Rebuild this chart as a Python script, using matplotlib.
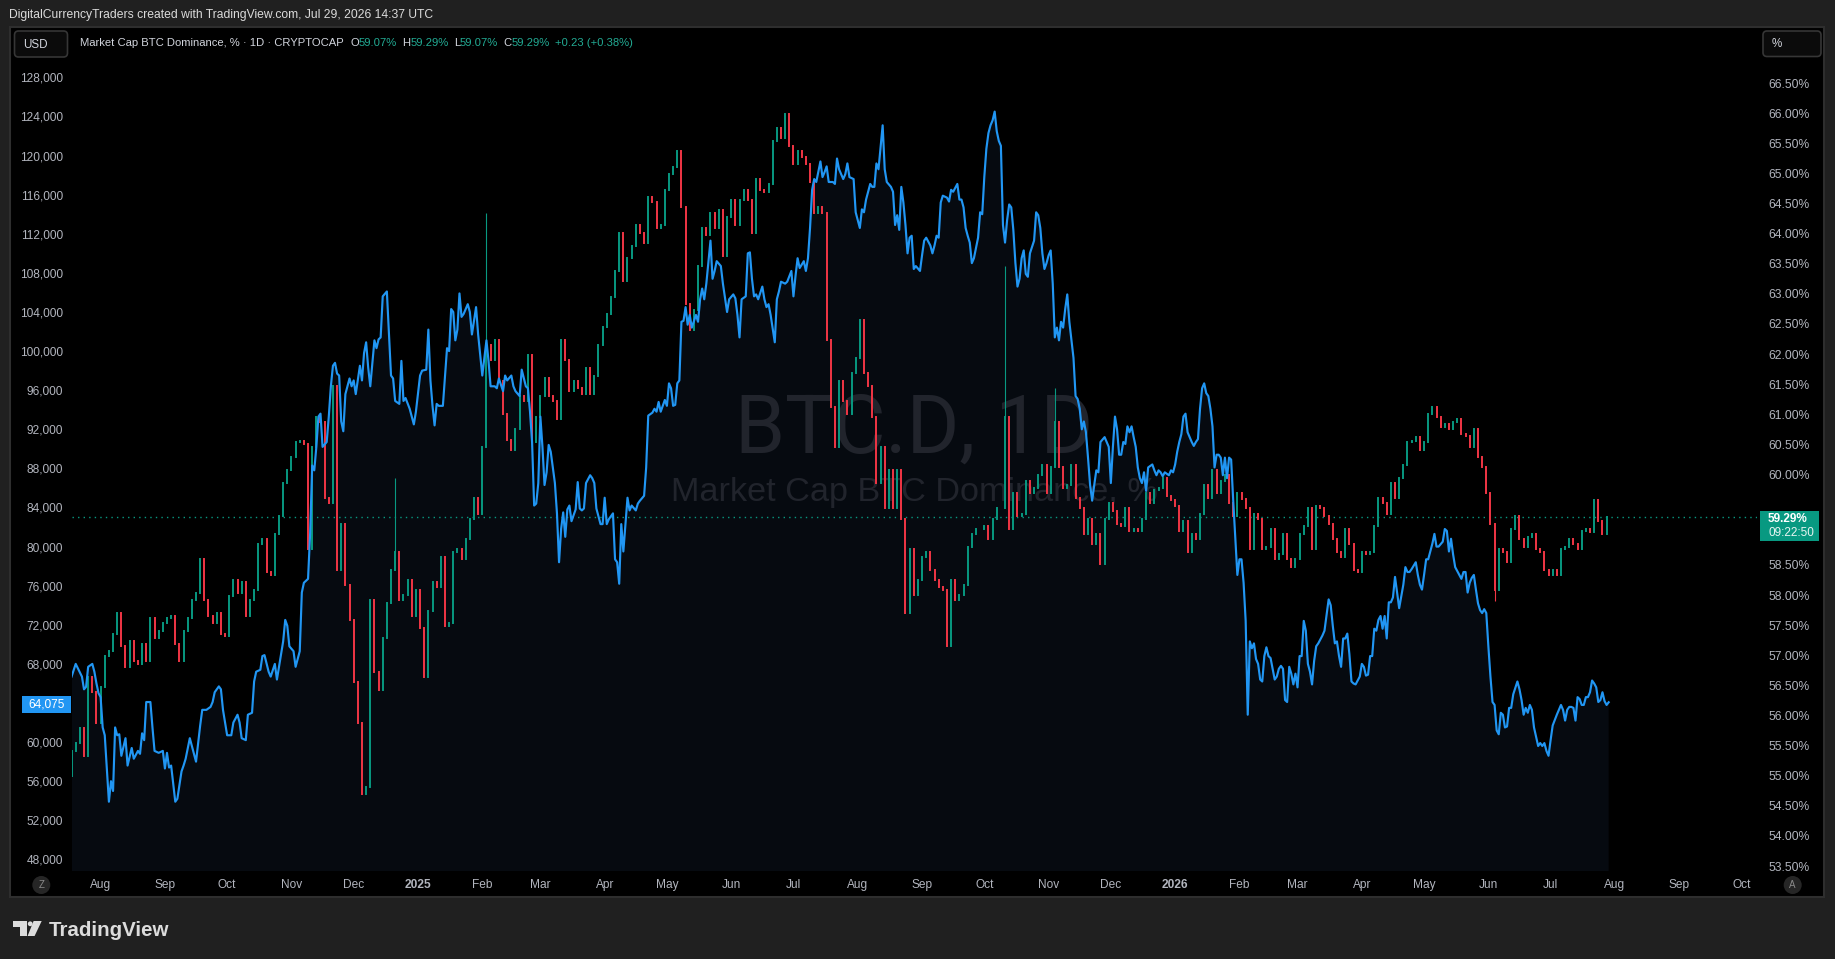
import numpy as np
import pandas as pd
import matplotlib
matplotlib.use("Agg")
import matplotlib.pyplot as plt
import matplotlib.dates as mdates
from matplotlib.patches import Rectangle, FancyBboxPatch, Circle, Polygon
from matplotlib.transforms import Affine2D, blended_transform_factory

# ------------------------------------------------------------------ data
origin = "2024-08-01"            # day 0 of the day offsets used below

# BTC dominance (%) closes, one candle every 2 days starting 2024-07-18
dom_start = "2024-07-18"
dom_step_days = 2
dom_first_open = 55.0
dom_close = [
    55.41, 55.54, 55.79, 55.33, 56.64, 56.39, 55.88, 56.47, 56.98, 57.07,
    57.36, 57.70, 57.15, 56.81, 57.24, 56.90, 56.86, 57.19, 56.90, 57.62,
    57.28, 57.40, 57.53, 57.62, 57.66, 57.19, 56.90, 57.40, 57.62, 57.91,
    58.04, 58.59, 57.91, 57.66, 57.53, 57.70, 57.36, 57.32, 57.99, 58.25,
    58.04, 58.21, 57.66, 57.91, 58.08, 58.85, 58.93, 58.38, 58.34, 59.01,
    59.31, 59.86, 60.07, 60.29, 60.54, 60.56, 60.50, 58.76, 60.46, 60.96,
    60.88, 59.61, 59.52, 61.47, 58.42, 59.18, 58.17, 57.58, 56.56, 55.88,
    54.69, 54.82, 57.91, 56.73, 56.43, 57.28, 57.87, 58.42, 58.72, 57.91,
    58.00, 58.25, 57.66, 58.08, 57.45, 56.64, 57.74, 58.21, 58.13, 58.63,
    57.49, 57.53, 58.72, 58.76, 58.59, 58.93, 59.27, 59.61, 59.35, 60.46,
    62.15, 61.90, 62.23, 61.56, 61.01, 60.58, 60.41, 60.75, 61.30, 61.22,
    61.98, 60.54, 60.96, 61.30, 61.60, 61.30, 61.22, 60.92, 62.23, 61.90,
    61.39, 61.56, 61.43, 61.34, 61.77, 61.34, 61.64, 62.15, 62.45, 62.66,
    62.95, 63.38, 64.01, 63.21, 63.59, 63.80, 64.14, 64.01, 63.84, 64.61,
    64.52, 64.10, 64.14, 64.73, 64.99, 65.11, 65.37, 64.44, 62.83, 62.40,
    62.74, 63.46, 64.10, 63.97, 64.35, 64.10, 64.39, 63.63, 64.27, 64.56,
    64.14, 64.56, 64.73, 64.56, 64.01, 64.90, 64.73, 64.69, 64.82, 65.54,
    65.75, 65.58, 65.98, 65.45, 65.16, 65.37, 65.28, 65.16, 64.86, 64.35,
    64.44, 64.35, 62.23, 61.13, 60.46, 61.56, 61.22, 61.01, 61.69, 61.94,
    62.57, 61.68, 61.47, 60.96, 59.86, 60.46, 59.44, 60.07, 59.44, 60.07,
    59.27, 57.70, 58.76, 58.00, 58.25, 58.63, 58.72, 58.42, 58.25, 58.13,
    58.08, 57.15, 58.25, 57.91, 58.00, 58.17, 58.80, 59.01, 59.10, 59.10,
    59.14, 58.93, 59.27, 59.44, 59.44, 60.96, 59.10, 59.69, 59.31, 59.35,
    59.90, 59.69, 59.78, 59.99, 60.16, 59.69, 60.12, 60.88, 60.12, 59.78,
    59.82, 60.16, 59.61, 59.44, 59.01, 59.27, 58.85, 59.01, 58.51, 59.27,
    59.52, 59.40, 59.18, 59.14, 59.44, 59.06, 59.10, 59.06, 59.27, 59.69,
    59.52, 59.74, 59.78, 59.95, 59.65, 59.57, 59.48, 59.06, 59.23, 58.72,
    59.01, 58.93, 59.35, 59.82, 59.61, 60.07, 59.69, 59.90, 59.99, 59.52,
    59.31, 59.69, 59.60, 59.44, 58.76, 59.35, 59.27, 58.76, 58.80, 59.10,
    58.59, 58.68, 59.01, 58.59, 58.46, 58.59, 59.01, 59.14, 59.44, 58.76,
    59.48, 59.44, 59.31, 59.18, 58.93, 58.72, 58.63, 59.10, 58.85, 58.42,
    58.38, 58.72, 58.68, 58.72, 59.14, 59.61, 59.52, 59.35, 59.86, 59.61,
    59.95, 60.16, 60.54, 60.56, 60.63, 60.41, 60.54, 61.01, 61.13, 60.96,
    60.79, 60.84, 60.75, 60.88, 60.92, 60.67, 60.64, 60.46, 60.75, 60.29,
    60.12, 59.69, 59.18, 58.08, 58.76, 58.72, 58.55, 59.10, 59.31, 58.93,
    58.80, 58.97, 59.01, 58.76, 58.72, 58.42, 58.34, 58.42, 58.34, 58.76,
    58.80, 58.93, 58.85, 58.76, 59.06, 59.10, 59.05, 59.57, 59.23, 59.01,
    59.29,
]
# long wicks (day offset, wick end in %)
wick_day = [142, 186, 436, 460, 672]
wick_end = [59.95, 64.35, 63.46, 61.43, 57.90]

# BTCUSD overlay: (day offset, price in thousand USD)
btc_points = [
    (-14, 66.7), (-12, 68.0), (-9, 66.7), (-8, 65.4), (-7, 65.65), (-6, 67.7), (-4, 68.0), (-3, 67.2), (-2, 66.0), (-1, 65.0),
    (0, 64.6), (1, 61.5), (2, 60.7), (3, 57.3), (4, 53.9), (5, 56.0), (6, 55.0), (7, 61.5), (8, 60.7), (9, 60.8),
    (10, 58.6), (12, 60.4), (13, 57.6), (15, 59.4), (16, 58.3), (18, 59.1), (19, 58.8), (20, 60.9), (21, 60.2), (22, 64.1),
    (24, 64.1), (25, 61.5), (26, 59.1), (28, 58.9), (30, 59.1), (31, 57.3), (32, 58.9), (33, 57.4), (34, 57.6), (36, 53.9),
    (37, 54.2), (39, 57.0), (40, 57.6), (41, 58.3), (43, 60.4), (44, 59.6), (46, 58.0), (48, 61.7), (49, 63.3), (51, 63.3),
    (53, 63.6), (54, 64.1), (55, 65.1), (57, 65.7), (58, 65.4), (59, 63.3), (61, 60.7), (63, 60.7), (64, 62.0), (66, 62.8),
    (67, 62.0), (68, 60.4), (70, 60.2), (71, 62.8), (73, 63.0), (74, 66.2), (75, 67.2), (77, 67.4), (78, 68.8), (79, 68.9),
    (81, 67.2), (82, 66.7), (84, 68.0), (85, 66.4), (86, 67.7), (88, 70.3), (89, 72.5), (90, 71.9), (91, 69.8), (93, 69.3),
    (94, 67.7), (96, 69.3), (97, 75.3), (98, 76.3), (100, 76.7), (101, 81.3), (102, 88.3), (103, 87.8), (104, 90.2), (105, 93.3),
    (106, 93.6), (107, 90.2), (109, 90.7), (110, 93.3), (111, 96.4), (112, 98.5), (113, 98.8), (114, 97.7), (115, 97.5), (116, 92.8),
    (117, 91.8), (118, 95.6), (119, 96.4), (120, 97.2), (121, 96.4), (122, 97.0), (123, 95.6), (125, 98.5), (126, 97.0), (127, 99.8),
    (128, 100.9), (129, 98.3), (130, 96.4), (132, 101.1), (133, 100.3), (134, 101.2), (135, 101.4), (136, 105.6), (138, 106.1), (139, 101.7),
    (140, 97.5), (141, 97.2), (142, 94.9), (144, 94.6), (145, 99.0), (146, 94.9), (147, 95.2), (149, 94.1), (151, 92.5), (152, 93.8),
    (154, 97.5), (155, 98.0), (157, 98.1), (158, 102.2), (159, 97.0), (160, 94.4), (161, 92.4), (162, 94.6), (163, 94.4), (165, 94.4),
    (167, 100.3), (168, 100.0), (169, 104.3), (170, 104.0), (171, 101.1), (172, 102.2), (173, 105.9), (174, 103.5), (175, 103.8), (177, 104.8),
    (178, 104.0), (179, 101.7), (181, 104.5), (182, 101.7), (184, 97.5), (186, 101.1), (187, 99.0), (188, 96.4), (190, 96.4), (191, 96.2),
    (192, 97.2), (194, 95.9), (195, 97.5), (196, 97.0), (198, 97.5), (199, 96.4), (200, 95.9), (202, 95.4), (203, 98.1), (205, 96.4),
    (206, 96.2), (207, 93.8), (208, 90.7), (209, 84.2), (210, 84.4), (211, 86.5), (212, 93.3), (213, 90.2), (214, 86.3), (215, 87.6),
    (216, 90.4), (217, 89.7), (219, 86.5), (220, 83.4), (221, 78.4), (222, 81.8), (223, 83.5), (224, 81.0), (225, 83.8), (226, 84.2),
    (227, 82.6), (229, 83.8), (230, 86.6), (231, 83.9), (232, 83.7), (233, 83.9), (234, 86.5), (236, 87.3), (237, 87.0), (238, 86.5),
    (239, 83.9), (241, 82.3), (242, 82.3), (243, 85.0), (244, 82.3), (245, 82.8), (247, 83.4), (248, 78.7), (249, 78.4), (250, 76.2),
    (251, 82.3), (252, 79.5), (253, 82.3), (254, 85.0), (255, 83.7), (256, 84.2), (258, 83.7), (259, 84.4), (260, 84.7), (262, 85.2),
    (263, 88.1), (264, 93.4), (266, 93.7), (267, 94.1), (268, 93.8), (269, 94.8), (270, 93.8), (272, 95.0), (273, 94.4), (274, 96.7),
    (275, 96.2), (276, 94.4), (277, 94.5), (278, 96.7), (279, 97.0), (280, 103.0), (281, 103.1), (282, 104.5), (283, 102.7), (284, 103.7),
    (285, 102.4), (287, 103.7), (288, 103.0), (289, 105.3), (290, 106.4), (291, 105.3), (292, 106.9), (294, 111.3), (295, 107.4), (296, 108.2),
    (297, 109.2), (299, 108.7), (300, 106.9), (302, 104.0), (303, 105.3), (305, 105.8), (306, 105.4), (307, 103.7), (308, 101.4), (309, 105.3),
    (311, 105.6), (312, 110.0), (313, 110.1), (314, 107.4), (315, 105.6), (316, 105.8), (317, 105.3), (319, 106.6), (320, 105.3), (321, 104.5),
    (322, 104.8), (323, 103.7), (325, 100.9), (326, 105.3), (327, 106.1), (328, 107.1), (330, 106.9), (331, 107.1), (333, 108.2), (334, 105.6),
    (335, 107.7), (336, 109.5), (337, 108.5), (339, 109.2), (340, 108.2), (341, 109.5), (342, 112.6), (343, 116.5), (344, 117.6), (345, 117.3),
    (347, 119.4), (348, 117.8), (349, 118.3), (350, 118.9), (351, 117.3), (353, 117.3), (354, 117.1), (355, 119.7), (356, 118.6), (358, 117.6),
    (359, 118.1), (360, 119.2), (361, 117.8), (363, 117.6), (364, 114.2), (366, 112.6), (367, 114.5), (368, 114.2), (369, 115.5), (371, 117.1),
    (372, 116.8), (373, 116.8), (374, 119.2), (375, 118.6), (377, 123.1), (378, 118.6), (379, 117.3), (381, 116.8), (382, 116.3), (383, 112.9),
    (384, 113.9), (385, 112.4), (386, 116.8), (387, 115.2), (388, 112.9), (389, 110.0), (390, 111.6), (391, 111.8), (392, 108.4), (393, 108.7),
    (395, 108.2), (396, 109.8), (397, 111.3), (398, 111.6), (400, 110.8), (401, 110.0), (402, 110.8), (403, 111.8), (404, 111.6), (405, 115.2),
    (406, 115.9), (408, 115.7), (409, 115.3), (410, 116.5), (411, 116.3), (413, 117.1), (414, 115.5), (415, 115.5), (416, 114.7), (417, 112.6),
    (418, 111.8), (419, 111.1), (420, 109.0), (421, 109.5), (423, 111.6), (424, 114.2), (425, 114.0), (426, 117.8), (427, 120.7), (428, 122.3),
    (429, 123.1), (430, 123.6), (431, 124.5), (432, 122.5), (433, 121.5), (434, 121.0), (435, 112.9), (436, 111.1), (437, 113.4), (438, 115.0),
    (439, 114.7), (440, 112.4), (441, 109.0), (442, 106.6), (443, 107.4), (444, 109.5), (445, 110.3), (446, 107.9), (447, 107.6), (448, 110.0),
    (450, 111.3), (451, 114.2), (452, 113.9), (453, 112.6), (454, 110.0), (455, 108.4), (456, 109.0), (457, 109.8), (458, 110.3), (459, 106.9),
    (460, 101.4), (461, 102.4), (462, 101.1), (463, 103.0), (464, 102.4), (465, 104.3), (466, 105.8), (467, 103.0), (468, 101.1), (469, 99.3),
    (470, 95.4), (471, 95.1), (472, 94.1), (473, 92.0), (474, 92.8), (475, 91.7), (476, 89.1), (477, 86.3), (478, 84.7), (479, 86.3),
    (480, 87.8), (481, 87.6), (482, 90.7), (484, 91.2), (485, 90.7), (486, 90.2), (487, 86.5), (488, 90.2), (489, 93.3), (490, 92.0),
    (491, 89.4), (492, 89.4), (493, 90.7), (494, 90.5), (495, 92.3), (496, 91.7), (497, 92.3), (498, 91.2), (499, 90.2), (500, 88.1),
    (501, 87.0), (502, 86.5), (503, 87.6), (504, 85.7), (505, 88.1), (507, 88.4), (508, 87.8), (509, 87.3), (510, 87.8), (511, 87.6),
    (512, 87.2), (513, 87.6), (515, 87.3), (516, 87.8), (517, 87.6), (518, 88.4), (519, 89.7), (520, 90.7), (521, 91.5), (522, 93.3),
    (523, 93.6), (524, 91.7), (525, 91.2), (526, 90.7), (527, 90.3), (528, 90.7), (529, 91.0), (530, 94.1), (531, 96.2), (532, 96.7),
    (533, 95.7), (534, 95.4), (535, 94.1), (536, 92.3), (537, 88.1), (538, 89.4), (539, 89.4), (540, 89.1), (541, 87.3), (542, 89.1),
    (543, 87.0), (544, 89.1), (545, 88.9), (546, 84.7), (547, 80.8), (548, 77.1), (549, 78.7), (550, 78.7), (551, 76.3), (552, 72.4),
    (553, 62.8), (554, 70.3), (555, 69.6), (556, 70.1), (557, 68.5), (558, 68.0), (559, 66.4), (560, 66.2), (561, 68.8), (562, 69.7),
    (563, 68.8), (564, 68.6), (566, 66.4), (567, 66.7), (568, 67.5), (569, 67.8), (570, 67.5), (571, 64.3), (572, 64.1), (573, 67.7),
    (574, 67.0), (575, 65.9), (576, 67.0), (577, 65.6), (578, 68.8), (579, 68.8), (580, 72.4), (581, 71.4), (582, 68.0), (583, 67.2),
    (584, 65.9), (585, 68.3), (586, 69.8), (587, 70.1), (588, 70.5), (589, 70.9), (590, 71.4), (591, 73.0), (592, 74.6), (593, 74.0),
    (594, 71.9), (595, 70.1), (596, 70.3), (597, 68.8), (598, 67.7), (599, 70.6), (600, 70.6), (601, 71.1), (602, 69.0), (603, 66.2),
    (604, 66.0), (605, 65.9), (606, 66.3), (607, 66.7), (608, 68.0), (609, 67.7), (610, 66.8), (611, 66.9), (612, 68.8), (613, 68.8),
    (614, 71.6), (615, 71.4), (616, 72.5), (617, 72.9), (618, 71.6), (619, 72.9), (620, 70.6), (621, 74.3), (622, 74.3), (623, 74.8),
    (624, 76.9), (625, 75.3), (626, 73.7), (628, 76.1), (629, 77.9), (630, 77.4), (631, 77.4), (632, 77.7), (634, 78.4), (635, 77.1),
    (636, 76.1), (637, 75.6), (638, 77.1), (639, 78.7), (640, 78.7), (642, 80.3), (643, 81.3), (644, 80.0), (645, 80.0), (647, 80.5),
    (648, 81.8), (649, 81.6), (650, 79.5), (651, 80.8), (652, 79.2), (653, 77.9), (655, 77.1), (656, 76.7), (657, 77.4), (658, 77.4),
    (659, 75.3), (660, 76.3), (661, 76.8), (662, 77.1), (663, 75.6), (664, 74.2), (665, 73.5), (666, 73.2), (667, 73.6), (668, 73.2),
    (669, 69.8), (670, 66.7), (671, 64.1), (672, 63.8), (673, 61.2), (674, 60.8), (675, 63.0), (676, 62.8), (677, 61.5), (678, 61.6),
    (679, 63.5), (680, 63.5), (681, 64.9), (683, 66.2), (684, 65.4), (685, 64.3), (686, 62.8), (687, 63.5), (688, 63.0), (689, 63.8),
    (690, 63.3), (691, 61.5), (693, 59.6), (694, 59.9), (695, 59.6), (696, 59.9), (697, 59.1), (698, 58.6), (699, 60.2), (700, 61.7),
    (702, 62.8), (703, 63.3), (704, 63.8), (705, 63.3), (706, 62.2), (707, 63.3), (708, 63.6), (709, 63.6), (710, 63.5), (711, 62.2),
    (712, 64.6), (713, 64.4), (714, 63.8), (715, 63.8), (716, 64.6), (717, 64.6), (718, 65.1), (719, 66.3), (720, 66.0), (721, 65.6),
    (722, 64.1), (723, 64.3), (724, 65.1), (725, 64.2), (726, 63.8), (727, 64.075),
]

left_ticks = list(range(48000, 128001, 4000))
right_ticks = [53.5 + 0.5 * i for i in range(27)]
last_dom = 59.29
last_btc = 64075
legend_title = "Market Cap BTC Dominance, % \u00b7 1D \u00b7 CRYPTOCAP"
legend_ohlc = [("O", "59.07%"), ("H", "59.29%"), ("L", "59.07%"), ("C", "59.29%")]
legend_change = "+0.23 (+0.38%)"
countdown = "09:22:50"
header = "DigitalCurrencyTraders created with TradingView.com, Jul 29, 2026 14:37 UTC"

# ------------------------------------------------------------------ style
W, H = 1835, 959
BG = "#202020"
PANE = "#000000"
TXT = "#b2b5be"
LIGHT = "#d1d4dc"
GREEN = "#089981"
GREEN_TXT = "#22ab94"
RED = "#f23645"
BLUE = "#2196f3"
FILL = "#060a10"
WM = "#21242c"

plt.rcParams["font.family"] = ["Liberation Sans", "DejaVu Sans"]

fig = plt.figure(figsize=(W / 100, H / 100), dpi=100)
fig.patch.set_facecolor(BG)
pxT = Affine2D().scale(1.0 / W, -1.0 / H).translate(0, 1) + fig.transFigure

# chart pane
fig.patches.append(Rectangle((10, 27), 1814, 870, transform=pxT, facecolor=PANE,
                             edgecolor="#2e2e2e", lw=1.5, zorder=-5))

ax_l, ax_r, ax_t, ax_b = 71.5, 1757.0, 27.3, 871.0
ax = fig.add_axes([ax_l / W, 1 - ax_b / H, (ax_r - ax_l) / W, (ax_b - ax_t) / H])
ax2 = ax.twinx()
ax3 = ax.twinx()
for a in (ax, ax2, ax3):
    a.patch.set_visible(False)
    for s in a.spines.values():
        s.set_visible(False)
    a.tick_params(axis="x", bottom=False, labelbottom=False, top=False)

t0 = pd.Timestamp(origin)
ax.set_xlim(mdates.date2num(t0 + pd.Timedelta(days=-14.03)),
            mdates.date2num(t0 + pd.Timedelta(days=798.5)))
ax.set_ylim(46813, 133125)
ax3.set_ylim(46813, 133125)
ax2.set_ylim(53.418, 67.426)

# BTC area + line
btc_day = np.array([p[0] for p in btc_points], dtype=float)
btc_price = np.array([p[1] for p in btc_points]) * 1000.0
x_btc = mdates.date2num(t0 + pd.to_timedelta(btc_day, unit="D"))
ax.fill_between(x_btc, btc_price, 0, color=FILL, lw=0, zorder=1)
ax3.plot(x_btc, btc_price, color=BLUE, lw=1.55, solid_joinstyle="round", zorder=3)

# watermark
ax.text(0.5 * (ax_l + ax_r), 453, "BTC.D, 1D", transform=pxT, ha="center", va="baseline",
        fontsize=58, color=WM, family=["Roboto", "Liberation Sans"], zorder=2)
ax.text(0.5 * (ax_l + ax_r), 501, "Market Cap BTC Dominance, %", transform=pxT, ha="center",
        va="baseline", fontsize=24.7, color=WM, zorder=2)

# candles
dom_dates = pd.Timestamp(dom_start) + pd.to_timedelta(np.arange(len(dom_close)) * dom_step_days, unit="D")
x_dom = mdates.date2num(dom_dates)
closes = np.array(dom_close)
opens = np.concatenate([[dom_first_open], closes[:-1]])
up = closes >= opens
lo = np.minimum(opens, closes)
hi = np.maximum(opens, closes)
for mask, col in ((up, GREEN), (~up, RED)):
    lc = ax2.vlines(x_dom[mask], lo[mask], hi[mask], colors=col, lw=1.4, zorder=2)
    lc.set_capstyle("projecting")
dom_day0 = (pd.Timestamp(dom_start) - t0).days
for d, w in zip(wick_day, wick_end):
    i = (d - dom_day0) // dom_step_days
    col = GREEN if up[i] else RED
    base = hi[i] if w > hi[i] else lo[i]
    ax2.vlines(x_dom[i], min(base, w), max(base, w), colors=col, lw=0.8, zorder=2)

ax2.axhline(last_dom, color=GREEN, lw=1.0, linestyle=(0, (1, 3)), zorder=1)

# axis labels (labels hidden behind the last-value tags are left blank)
ax.set_yticks(left_ticks)
ax.set_yticklabels(["" if abs(v - last_btc) < 1500 else f"{v:,}" for v in left_ticks])
ax.tick_params(axis="y", length=0, pad=6.1, labelsize=8.6, labelcolor=TXT, left=True, right=False)
ax2.set_yticks(right_ticks)
ax2.set_yticklabels(["" if abs(v - last_dom) < 0.3 else f"{v:.2f}%" for v in right_ticks])
ax2.tick_params(axis="y", length=0, pad=8.0, labelsize=8.7, labelcolor=TXT, left=False, labelleft=False)
ax3.set_yticks([])
ax3.tick_params(axis="y", right=False, labelright=False, left=False, labelleft=False)

xT = blended_transform_factory(ax.transData, pxT)
for m in pd.date_range(origin, "2026-10-01", freq="MS"):
    lab = str(m.year) if m.month == 1 else m.strftime("%b")
    ax.text(mdates.date2num(m), 885, lab, transform=xT, ha="center", va="center",
            fontsize=8.6, color=TXT, fontweight="bold" if m.month == 1 else "normal", clip_on=False)

# header / legend
fig.text(9, 15, header, transform=pxT, ha="left", va="center", fontsize=8.7, color="#dadada")
fig.canvas.draw()
rend = fig.canvas.get_renderer()
xpos = 79.5
segs = [(legend_title, LIGHT, 7)]
for k, v in legend_ohlc:
    segs.append((k, LIGHT, 0))
    segs.append((v, GREEN_TXT, 5))
segs.append((legend_change, GREEN_TXT, 0))
for s, c, gap in segs:
    t = fig.text(xpos, 42.5, s, transform=pxT, ha="left", va="center", fontsize=8.1, color=c)
    bb = t.get_window_extent(rend)
    xpos += bb.width + gap

# USD / % boxes
fig.patches.append(FancyBboxPatch((14.5, 31), 53, 26, boxstyle="round,pad=0,rounding_size=4",
                                  transform=pxT, facecolor="#0b0b0b", edgecolor="#363636", lw=1.2, zorder=5))
fig.text(23, 44.5, "USD", transform=pxT, ha="left", va="center", fontsize=8.4, color=LIGHT, zorder=6)
fig.patches.append(FancyBboxPatch((1763, 31), 58, 25.5, boxstyle="round,pad=0,rounding_size=4",
                                  transform=pxT, facecolor="#0b0b0b", edgecolor="#363636", lw=1.2, zorder=5))
fig.text(1772, 44, "%", transform=pxT, ha="left", va="center", fontsize=8.4, color=LIGHT, zorder=6)

# last value labels
fig.patches.append(Rectangle((1760, 510.5), 59, 30.5, transform=pxT, facecolor=GREEN, lw=0, zorder=5))
fig.text(1768, 519.5, f"{last_dom:.2f}%", transform=pxT, ha="left", va="center", fontsize=8.5,
         color="white", fontweight="bold", zorder=6)
fig.text(1768, 533, countdown, transform=pxT, ha="left", va="center", fontsize=8.5, color="#e8f5f2", zorder=6)
fig.patches.append(Rectangle((22.3, 696), 48.7, 16.7, transform=pxT, facecolor=BLUE, lw=0, zorder=5))
fig.text(46.5, 704.5, f"{last_btc:,}", transform=pxT, ha="center", va="center", fontsize=8.6,
         color="white", zorder=6)

# Z / A buttons
for cx, ch in ((41.3, "Z"), (1792.7, "A")):
    fig.patches.append(Circle((cx, 885), 9, transform=pxT, facecolor="#262626", lw=0, zorder=5))
    fig.text(cx, 885.5, ch, transform=pxT, ha="center", va="center", fontsize=7, color="#8a8a8a", zorder=6)

# TradingView logo
LOGO = "#dcdcdc"
fig.patches.append(Polygon([(12.7, 921), (26.7, 921), (26.7, 936), (20.2, 936), (20.2, 926.6), (12.7, 926.6)],
                           closed=True, transform=pxT, facecolor=LOGO, lw=0, zorder=5))
fig.patches.append(Circle((30.2, 923.8), 2.4, transform=pxT, facecolor=LOGO, lw=0, zorder=5))
fig.patches.append(Polygon([(33.6, 921), (41.7, 921), (34.6, 936), (27.6, 936)],
                           closed=True, transform=pxT, facecolor=LOGO, lw=0, zorder=5))
fig.text(48.5, 936, "TradingView", transform=pxT, ha="left", va="baseline", fontsize=14.8,
         fontweight="bold", color=LOGO, zorder=6)

fig.savefig("out.png", dpi=100, facecolor=fig.get_facecolor())
